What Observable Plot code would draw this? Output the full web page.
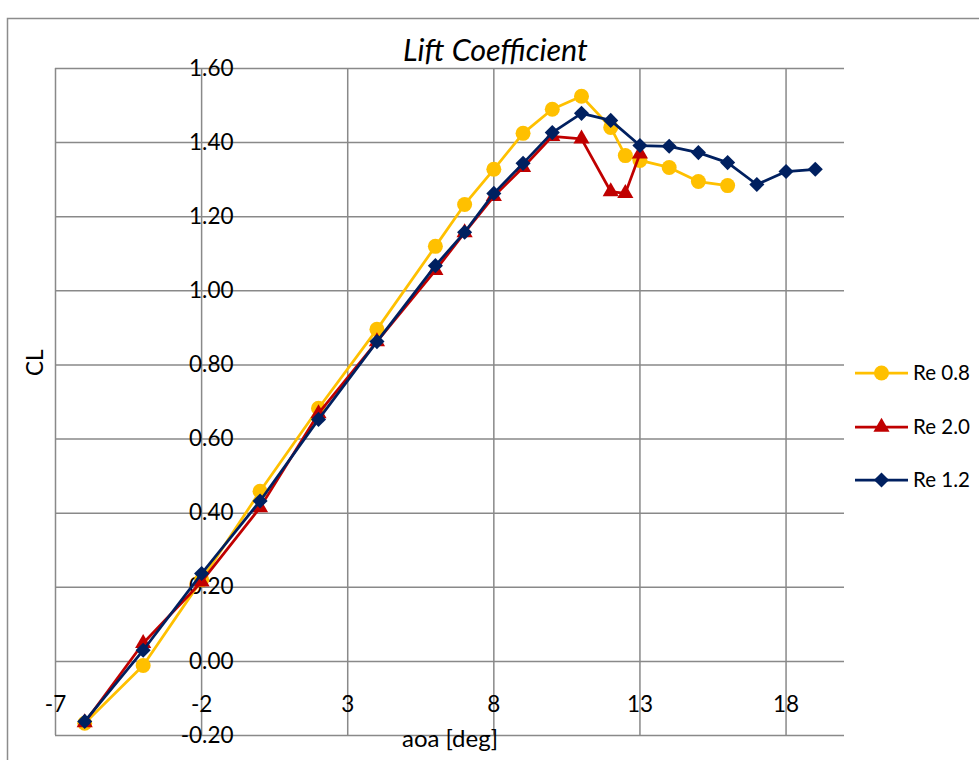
<!DOCTYPE html>
<html>
<head>
<meta charset="utf-8">
<script src="https://cdn.jsdelivr.net/npm/d3@7"></script>
<script src="https://cdn.jsdelivr.net/npm/@observablehq/plot@0.6"></script>
<style>
  html, body { margin: 0; padding: 0; background: #fff; }
  svg { display: block; }
</style>
</head>
<body>
<div id="chart"></div>
<script>
// ---- data ----
const aoaRe08 = [-6, -4, -2, 0, 2, 4, 6, 7, 8, 9, 10, 11, 12, 12.5, 13, 14, 15, 16];
const clRe08  = [-0.167, -0.011, 0.22, 0.459, 0.683, 0.896, 1.12, 1.233, 1.328, 1.425, 1.49, 1.525, 1.441, 1.365, 1.352, 1.333, 1.295, 1.284];

const aoaRe20 = [-6, -4, -2, 0, 2, 4, 6, 7, 8, 9, 10, 11, 12, 12.5, 13];
const clRe20  = [-0.165, 0.049, 0.215, 0.415, 0.669, 0.863, 1.055, 1.157, 1.255, 1.333, 1.417, 1.41, 1.268, 1.263, 1.37];

const aoaRe12 = [-6, -4, -2, 0, 2, 4, 6, 7, 8, 9, 10, 11, 12, 13, 14, 15, 16, 17, 18, 19];
const clRe12  = [-0.162, 0.03, 0.237, 0.433, 0.653, 0.863, 1.068, 1.158, 1.263, 1.344, 1.427, 1.479, 1.46, 1.392, 1.39, 1.373, 1.346, 1.287, 1.322, 1.328];

const seriesNames = ["Re 0.8", "Re 2.0", "Re 1.2"];
const xTicks = [-7, -2, 3, 8, 13, 18];
const yTicks = [-0.2, 0, 0.2, 0.4, 0.6, 0.8, 1.0, 1.2, 1.4, 1.6];

const titleText = "Lift Coefficient";
const xTitle = "aoa [deg]";
const yTitle = "CL";

// ---- styles ----
const colors = ["#FFC000", "#C00000", "#002060"];
const symbols = ["circle", "triangle", "diamond2"];
const radii = [7.5, 6, 6.8];
const gridColor = "#898989";
const FONT = "Lato, 'Open Sans', sans-serif";

const toRows = (xs, ys) => xs.map((x, i) => ({aoa: x, cl: ys[i]}));
const seriesData = [toRows(aoaRe08, clRe08), toRows(aoaRe20, clRe20), toRows(aoaRe12, clRe12)];

const seriesMarks = seriesData.flatMap((rows, i) => [
  Plot.line(rows, {x: "aoa", y: "cl", stroke: colors[i], strokeWidth: 2.75}),
  Plot.dot(rows, {x: "aoa", y: "cl", symbol: symbols[i], r: radii[i], fill: colors[i], stroke: "none"})
]);

const W = 979, H = 760;
const svg = Plot.plot({
  width: W,
  height: H,
  marginLeft: 55,
  marginRight: 135,
  marginTop: 68,
  marginBottom: 25,
  style: {fontFamily: FONT, background: "white", overflow: "visible", color: "#000"},
  x: {domain: [-7, 20], label: null},
  y: {domain: [-0.2, 1.6], label: null},
  marks: [
    Plot.ruleX(xTicks, {stroke: gridColor, strokeWidth: 1.5}),
    Plot.ruleY(yTicks, {stroke: gridColor, strokeWidth: 1.5}),
    Plot.axisX({ticks: xTicks, tickSize: 0, tickPadding: 3, dy: -42, fontSize: 22.5, fill: "#000", tickFormat: d => String(d), label: null}),
    Plot.axisY({ticks: yTicks, tickSize: 0, tickPadding: 0, dx: 178, fontSize: 22.5, fill: "#000", tickFormat: d => d.toFixed(2), label: null}),
    Plot.text([titleText], {frameAnchor: "top", text: d => d, dx: 45.5, dy: -29, fontSize: 30.5, fontStyle: "italic", fill: "#000"}),
    Plot.text([xTitle], {frameAnchor: "bottom", text: d => d, dy: 11.5, fontSize: 24, fill: "#000"}),
    Plot.text([yTitle], {frameAnchor: "left", text: d => d, dx: -20, dy: -26, rotate: -90, fontSize: 22.5, fill: "#000"}),
    ...seriesMarks
  ]
});

// outer chart-area border
const s = d3.select(svg);
s.insert("rect", ":first-child")
  .attr("x", 7.5).attr("y", 18.5).attr("width", W + 20).attr("height", H + 20)
  .attr("fill", "none").attr("stroke", "#8c8c8c").attr("stroke-width", 1.5);

// legend
const legendY = [373, 427, 480];
const d3Symbols = [d3.symbolCircle, d3.symbolTriangle, d3.symbolDiamond2];
const legend = s.append("g").attr("font-family", FONT).attr("font-size", 20.5).attr("text-anchor", "start");
seriesNames.forEach((name, i) => {
  const g = legend.append("g").attr("transform", `translate(0,${legendY[i]})`);
  g.append("line").attr("x1", 855).attr("x2", 908).attr("y1", 0).attr("y2", 0)
    .attr("stroke", colors[i]).attr("stroke-width", 2.75);
  g.append("path")
    .attr("d", d3.symbol(d3Symbols[i], Math.PI * radii[i] * radii[i])())
    .attr("transform", "translate(881.5,0)")
    .attr("fill", colors[i]);
  g.append("text").attr("x", 913).attr("y", 0).attr("dy", "0.35em")
    .attr("fill", "#000").text(name);
});

document.getElementById("chart").appendChild(svg);
</script>
</body>
</html>
